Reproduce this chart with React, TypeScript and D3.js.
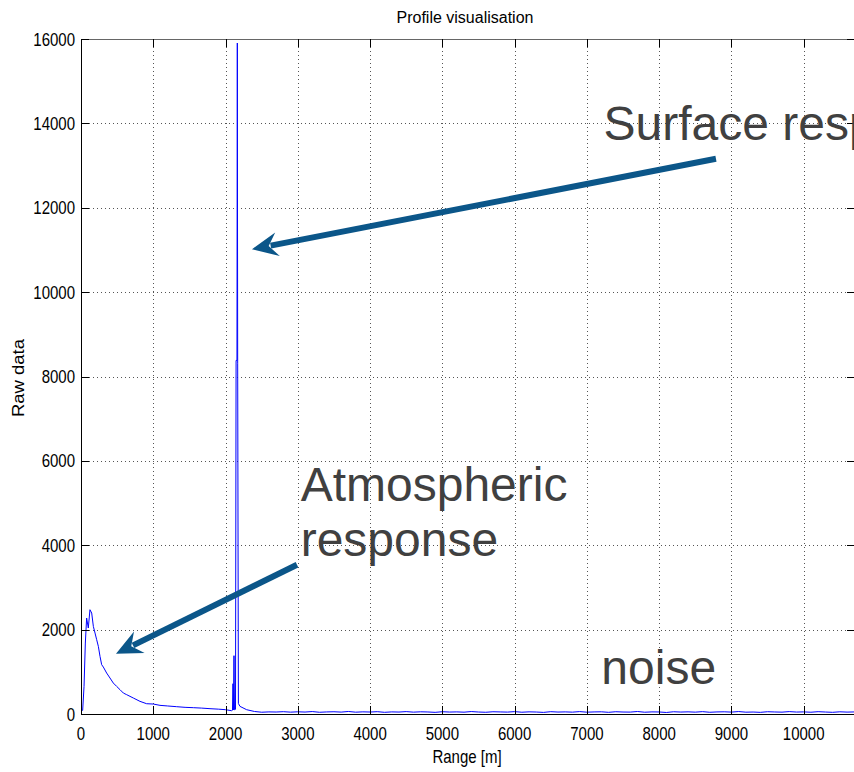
import React from "react";
import * as d3 from "d3";

// ---- data ----
const rangeM: number[] = [
  0, 23, 42, 60, 78, 101, 124, 148, 171, 194, 217, 240, 263, 286, 309, 355, 401, 447, 493, 540,
  586, 632, 724, 816, 908, 1001, 1093, 1200, 1324, 1440, 1554, 1670, 1785, 1900, 2001, 2084,
  2096, 2103, 2110, 2117, 2124, 2138, 2146, 2158, 2163, 2168, 2178, 2200, 2292, 2400,
  2500, 2600, 2700, 2800, 2900, 3000, 3100, 3200, 3300, 3400, 3500, 3600, 3700, 3800, 3900,
  4000, 4100, 4200, 4300, 4400, 4500, 4600, 4700, 4800, 4900, 5000, 5100, 5200, 5300, 5400,
  5500, 5600, 5700, 5800, 5900, 6000, 6100, 6200, 6300, 6400, 6500, 6600, 6700, 6800, 6900,
  7000, 7100, 7200, 7300, 7400, 7500, 7600, 7700, 7800, 7900, 8000, 8100, 8200, 8300, 8400,
  8500, 8600, 8700, 8800, 8900, 9000, 9100, 9200, 9300, 9400, 9500, 9600, 9700, 9800, 9900,
  10000, 10100, 10200, 10300, 10400, 10500, 10600, 10700,
];
const rawData: number[] = [
  86, 86, 655, 1682, 2275, 2038, 2472, 2393, 2077, 1919, 1761, 1603, 1366, 1169, 1113, 971, 853, 734, 655, 576,
  497, 458, 379, 300, 244, 236, 205, 190, 173, 158, 150, 140, 126, 115, 102, 78,
  90, 718, 95, 1382, 100, 110, 8381, 8381, 15905, 8300, 250, 181, 102, 60,
  42, 50, 47, 55, 44, 52, 46, 58, 41, 49, 53, 45, 60, 43, 51,
  47, 55, 40, 50, 46, 57, 44, 52, 48, 39, 54, 46, 50, 43, 58,
  47, 41, 53, 49, 45, 56, 42, 51, 47, 38, 55, 46, 50, 44, 57,
  43, 49, 52, 40, 54, 47, 45, 59, 42, 50, 48, 36, 53, 46, 51,
  44, 56, 41, 49, 52, 45, 58, 43, 47, 39, 54, 48, 44, 57, 46,
  50, 42, 55, 47, 40, 52, 45, 49,
];
const xTicks: number[] = [0, 1000, 2000, 3000, 4000, 5000, 6000, 7000, 8000, 9000, 10000];
const yTicks: number[] = [0, 2000, 4000, 6000, 8000, 10000, 12000, 14000, 16000];

const chartTitle = "Profile visualisation";
const xLabel = "Range [m]";
const yLabel = "Raw data";

// annotations, in data coordinates [range, value]
const arrowStarts: [number, number][] = [[8786, 13160], [2989, 3539]];
const arrowTips: [number, number][] = [[2366, 11017], [484, 1429]];
const noteTexts: string[] = ["Surface response", "Atmospheric", "response", "noise"];
const notePos: [number, number][] = [[7230, 13610], [3040, 5054], [3040, 3740], [7200, 718]];

export default function App() {
  const W = 854, H = 772;
  const left = 81, right = 855, top = 39, bottom = 714;
  const x = d3.scaleLinear().domain([0, 10710]).range([left, right]);
  const y = d3.scaleLinear().domain([0, 16000]).range([bottom, top]);
  const pts: [number, number][] = rangeM.map((r, i) => [r, rawData[i]]);
  const line = d3.line<[number, number]>().x(d => x(d[0])).y(d => y(d[1]));
  const font = "'Liberation Sans', Arial, sans-serif";
  const arrowColor = "#0b5689";
  const txtColor = "#404040";

  const arrows = arrowStarts.map((s, i) => {
    const sx = x(s[0]), sy = y(s[1]);
    const tx = x(arrowTips[i][0]), ty = y(arrowTips[i][1]);
    const dx = tx - sx, dy = ty - sy;
    const len = Math.hypot(dx, dy);
    const ux = dx / len, uy = dy / len;
    const nx = -uy, ny = ux;
    const L = 26, Wd = 12, notch = 17;
    const bx = tx - ux * L, by = ty - uy * L;
    const mx = tx - ux * notch, my = ty - uy * notch;
    const head = `M${tx},${ty}L${bx + nx * Wd},${by + ny * Wd}L${mx},${my}L${bx - nx * Wd},${by - ny * Wd}Z`;
    return { sx, sy, mx: tx - ux * (notch + 2), my: ty - uy * (notch + 2), head };
  });

  return (
    <svg width={W} height={H} style={{ position: "absolute", left: 0, top: 0, background: "#fff" }}>
      <rect x={0} y={0} width={W} height={H} fill="#fff" />
      <defs>
        <clipPath id="plotclip">
          <rect x={left} y={top} width={right - left} height={bottom - top} />
        </clipPath>
      </defs>
      {/* grid */}
      <g stroke="#555" strokeWidth={1} strokeDasharray="1,3">
        {xTicks.filter(t => t > 0).map(t => (
          <line key={"gx" + t} x1={Math.round(x(t)) + 0.5} x2={Math.round(x(t)) + 0.5} y1={top} y2={bottom} />
        ))}
        {yTicks.filter(t => t > 0 && t < 16000).map(t => (
          <line key={"gy" + t} x1={left} x2={right} y1={Math.round(y(t)) + 0.5} y2={Math.round(y(t)) + 0.5} />
        ))}
      </g>
      {/* data line */}
      <path d={line(pts) || ""} fill="none" stroke="#0000ff" strokeWidth={1} clipPath="url(#plotclip)" />
      {/* axes box */}
      <g stroke="#000" strokeWidth={1} fill="none" shapeRendering="crispEdges">
        <line x1={left} x2={left} y1={top} y2={bottom} />
        <line x1={left} x2={right} y1={bottom} y2={bottom} />
        <line x1={left} x2={right} y1={top} y2={top} stroke="#666" />
        <line x1={right} x2={right} y1={top} y2={bottom} />
        {xTicks.map(t => (
          <g key={"tx" + t}>
            <line x1={Math.round(x(t)) + 0.5} x2={Math.round(x(t)) + 0.5} y1={bottom} y2={bottom - 8} />
            <line x1={Math.round(x(t)) + 0.5} x2={Math.round(x(t)) + 0.5} y1={top} y2={top + 8} />
          </g>
        ))}
        {yTicks.map(t => (
          <g key={"ty" + t}>
            <line x1={left} x2={left + 8} y1={Math.round(y(t)) + 0.5} y2={Math.round(y(t)) + 0.5} />
            <line x1={right - 8} x2={right} y1={Math.round(y(t)) + 0.5} y2={Math.round(y(t)) + 0.5} />
          </g>
        ))}
      </g>
      {/* tick labels */}
      <g fontFamily={font} fontSize={15} fill="#000">
        {xTicks.map(t => (
          <text key={"lx" + t} transform={`translate(${x(t)},740) scale(1,1.22)`} textAnchor="middle">
            {String(t)}
          </text>
        ))}
        {yTicks.map(t => (
          <text key={"ly" + t} transform={`translate(75,${y(t) + 6.6}) scale(1,1.22)`} textAnchor="end">
            {String(t)}
          </text>
        ))}
        <text transform={`translate(467,763) scale(1,1.22)`} textAnchor="middle">{xLabel}</text>
        <text transform={`translate(24,378) rotate(-90)`} textAnchor="middle" fontSize={16}
          textLength={78} lengthAdjust="spacingAndGlyphs">{yLabel}</text>
      </g>
      <text x={465} y={23} textAnchor="middle" fontFamily={font} fontSize={16} fill="#000">{chartTitle}</text>
      {/* annotations */}
      <g fill={arrowColor} stroke="none">
        {arrows.map((a, i) => (
          <g key={"ar" + i}>
            <line x1={a.sx} y1={a.sy} x2={a.mx} y2={a.my} stroke={arrowColor} strokeWidth={6} />
            <path d={a.head} />
          </g>
        ))}
      </g>
      <g fontFamily={font} fontSize={48} fill={txtColor}>
        {noteTexts.map((t, i) => (
          <text key={"nt" + i} x={x(notePos[i][0])} y={y(notePos[i][1])}>{t}</text>
        ))}
      </g>
    </svg>
  );
}
